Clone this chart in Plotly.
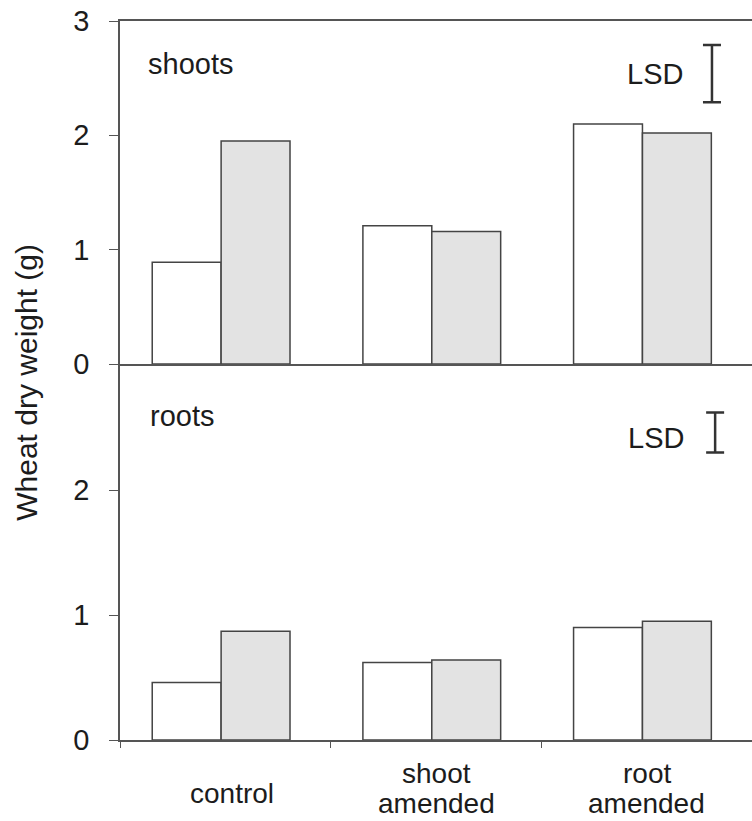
import plotly.graph_objects as go

categories = ["control", "shoot<br>amended", "root<br>amended"]
cat_pos = [0, 1, 2]
shoots_white = [0.89, 1.21, 2.10]
shoots_grey = [1.95, 1.16, 2.02]
roots_white = [0.46, 0.62, 0.90]
roots_grey = [0.87, 0.64, 0.95]
lsd_shoots = 0.50
lsd_roots = 0.32

FONT = "Liberation Sans, Arial, sans-serif"
TXT = "#1c1c1c"
LINE = "#555555"
BAR_W = 0.327

fig = go.Figure()

def add_bars(white, grey, xa, ya):
    fig.add_trace(go.Bar(x=cat_pos, y=white, width=BAR_W, offset=-BAR_W - 0.02,
                         marker=dict(color="white", line=dict(color="#444444", width=1.5)),
                         xaxis=xa, yaxis=ya, showlegend=False))
    fig.add_trace(go.Bar(x=cat_pos, y=grey, width=BAR_W, offset=-0.02,
                         marker=dict(color="#e3e3e3", line=dict(color="#444444", width=1.5)),
                         xaxis=xa, yaxis=ya, showlegend=False))

add_bars(shoots_white, shoots_grey, "x2", "y2")
add_bars(roots_white, roots_grey, "x", "y")

# LSD bars
fig.add_trace(go.Scatter(x=[2.31], y=[2.54], mode="markers", marker=dict(opacity=0),
                         error_y=dict(type="constant", value=lsd_shoots / 2, color="#333333",
                                      thickness=2.5, width=9),
                         xaxis="x2", yaxis="y2", showlegend=False, hoverinfo="skip"))
fig.add_trace(go.Scatter(x=[2.325], y=[2.46], mode="markers", marker=dict(opacity=0),
                         error_y=dict(type="constant", value=lsd_roots / 2, color="#333333",
                                      thickness=2.5, width=9),
                         xaxis="x", yaxis="y", showlegend=False, hoverinfo="skip"))

fs = 29
fig.update_layout(
    width=752, height=821,
    margin=dict(l=120, r=0, t=21, b=81),
    paper_bgcolor="white", plot_bgcolor="white",
    font=dict(family=FONT, size=fs, color=TXT),
    barmode="overlay",
    xaxis=dict(range=[-0.5, 2.5], tickvals=[-0.5, 0.5, 1.5, 2.5], showticklabels=False,
               ticks="outside", ticklen=6, tickcolor=LINE, showline=True, linecolor=LINE,
               linewidth=1.5, showgrid=False, zeroline=False, anchor="y", fixedrange=True),
    xaxis2=dict(range=[-0.5, 2.5], showticklabels=False, ticks="", showline=True,
                mirror=True, linecolor=LINE, linewidth=1.5, showgrid=False, zeroline=False,
                anchor="y2", matches="x"),
    yaxis=dict(domain=[0, 0.5215], range=[0, 3], tickvals=[0, 1, 2], ticks="outside",
               ticklen=9, tickcolor=LINE, showline=True, linecolor=LINE, linewidth=1.5,
               showgrid=False, zeroline=False, tickfont=dict(size=fs), anchor="x",
               ticklabelstandoff=14),
    yaxis2=dict(domain=[0.5229, 1], range=[0, 3], tickvals=[0, 1, 2, 3], ticks="outside",
                ticklen=9, tickcolor=LINE, showline=True, linecolor=LINE, linewidth=1.5,
                showgrid=False, zeroline=False, tickfont=dict(size=fs), anchor="x2",
                ticklabelstandoff=14),
)

ann = []
ann.append(dict(text="shoots", x=-0.377, y=2.62, xref="x2", yref="y2", xanchor="left",
                yanchor="middle", showarrow=False))
ann.append(dict(text="roots", x=-0.367, y=2.59, xref="x", yref="y", xanchor="left",
                yanchor="middle", showarrow=False))
ann.append(dict(text="LSD", x=2.04, y=2.54, xref="x2", yref="y2", xanchor="center",
                yanchor="middle", showarrow=False))
ann.append(dict(text="LSD", x=2.045, y=2.42, xref="x", yref="y", xanchor="center",
                yanchor="middle", showarrow=False))
# category labels: each line placed separately (paper y 0 = 740 px, 719 px per unit)
for i, c in zip(cat_pos, categories):
    lines = c.split("<br>")
    if len(lines) == 1:
        centers = [793]
    else:
        centers = [773, 803]
    for line, py in zip(lines, centers):
        ann.append(dict(text=line, x=i, y=(740 - py) / 719, xref="x", yref="paper",
                        xanchor="center", yanchor="middle", showarrow=False,
                        xshift=7 if i == 0 else 0, font=dict(size=28)))
ann.append(dict(text="Wheat dry weight (g)", x=-0.147, y=0.497, xref="paper", yref="paper",
                xanchor="center", yanchor="middle", textangle=-90, showarrow=False,
                font=dict(size=30)))
fig.update_layout(annotations=ann)

fig.write_html("out.html")
